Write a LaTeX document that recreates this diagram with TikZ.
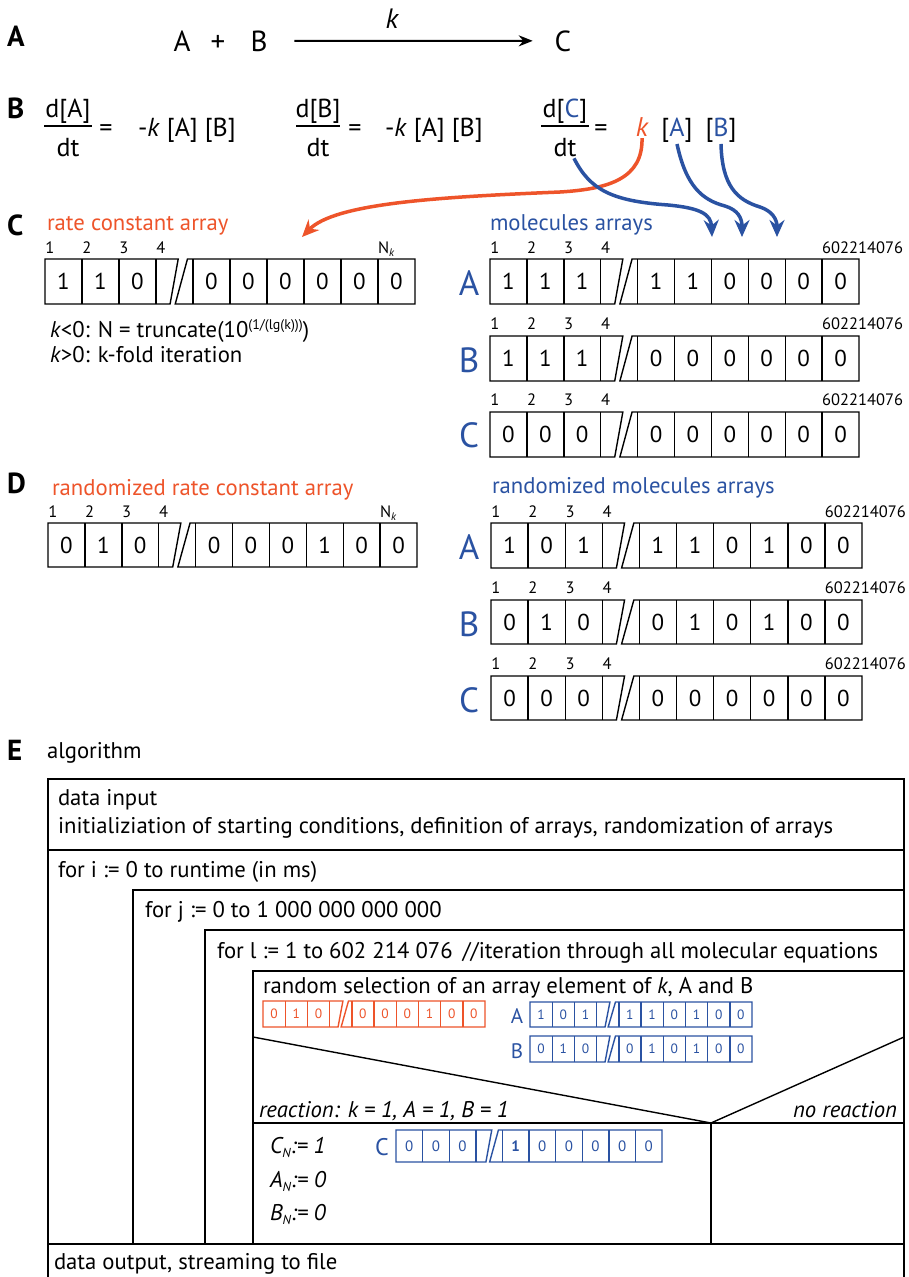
\documentclass[tikz,border=0pt]{standalone}
\usepackage{fontspec}
\setmainfont{PT Sans}
\setsansfont{PT Sans}
\usetikzlibrary{arrows.meta}
\definecolor{myred}{RGB}{238,84,42}
\definecolor{myblue}{RGB}{42,82,162}
\newcommand{\fs}[1]{\fontsize{#1}{#1}\selectfont}
\newcommand{\arr}[8]{%
  \pgfmathsetmacro\aB{#3+#5}%
  \pgfmathsetmacro\aLt{#2+3.6*#4}%
  \pgfmathsetmacro\aLb{#2+3.38*#4}%
  \pgfmathsetmacro\aRt{#2+3.85*#4}%
  \pgfmathsetmacro\aRb{#2+3.52*#4}%
  \pgfmathsetmacro\aR{#2+10*#4}%
  \draw[draw=#6, arrline] (#2,#3) -- (\aLt,#3) -- (\aLb,\aB) -- (#2,\aB) -- cycle;
  \draw[draw=#6, arrline] (\aRt,#3) -- (\aR,#3) -- (\aR,\aB) -- (\aRb,\aB) -- cycle;
  \foreach \c in {1,2,3,4,5,6,7,8,9}{\draw[draw=#6, arrline] ({#2+\c*#4},#3) -- ({#2+\c*#4},\aB);}
  \foreach \d [count=\i] in {#8}{%
    \pgfmathsetmacro\cx{#2+(\i-0.5+(\i>3))*#4}%
    \node[text=#6, font=\fs{#7}] (#1-\i) at (\cx,{#3+0.5*#5}) {\d};}%
}
\newcommand{\idx}[5]{%
  \foreach \n in {1,2,3,4}{\node[idxlbl] (#1-i\n) at ({#2+(\n-1)*#4+0.13*#4},#3) {\n};}
  \node[idxlbl, anchor=base west] (#1-last) at ({#2+9*#4},#3) {#5};
}
\begin{document}
\begin{tikzpicture}[x=1pt,y=-1pt,
  every node/.style={inner sep=0pt, outer sep=0pt},
  lbl/.style={font=\fs{29}\bfseries, anchor=base west},
  txt/.style={font=\fs{22.7}, anchor=base west},
  eq/.style={font=\fs{26}, anchor=base},
  idxlbl/.style={font=\fs{16.5}, anchor=base},
  rowlbl/.style={font=\fs{35}, text=myblue, anchor=base},
  arrline/.style={line width=1.4pt},
  box/.style={line width=1.4pt},
  bigarrow/.style={line width=3.5pt, -{Stealth[length=17pt,width=15pt]}}]
\useasboundingbox (0,0) rectangle (908,1277);
\fill[white] (0,0) rectangle (908,1277);
% ---------------- A
\node[lbl] (labA) at (7,46) {A};
\node[eq, font=\fs{29}] (rA) at (182,51) {A};
\node[eq, font=\fs{29}] (plus) at (218,51) {+};
\node[eq, font=\fs{29}] (rB) at (259,51) {B};
\node[eq, font=\fs{29}] (rC) at (563,51) {C};
\node[eq, font=\fs{28}\itshape] (kk) at (392,28) {k};
\draw[line width=2pt, -{Stealth[length=14pt,width=11pt]}] ([xshift=27pt]rB.east) -- ([xshift=-22pt]rC.west);
% ---------------- B
\node[lbl] (labB) at (7,118) {B};
\node[eq] (n1) at (68,117) {d[A]};
\node[eq] (d1) at (68,156) {dt};
\draw[line width=1.3pt] (44,126) -- (92,126);
\node[eq] (e1) at (106,136) {=};
\node[eq, anchor=base west] (r1) at (138,136) {-\textit{k} [A] [B]};
\node[eq] (n2) at (318,117) {d[B]};
\node[eq] (d2) at (318,156) {dt};
\draw[line width=1.3pt] (296,126) -- (340,126);
\node[eq] (e2) at (355,136) {=};
\node[eq, anchor=base west] (r2) at (385,136) {-\textit{k} [A] [B]};
\node[eq] (n3) at (565,117) {d[{\color{myblue}C}]};
\node[eq] (d3) at (565,156) {dt};
\draw[line width=1.3pt] (541,126) -- (589,126);
\node[eq] (e3) at (601,136) {=};
\node[eq, font=\fs{27}\itshape, text=myred] (kred) at (642,136) {k};
\node[eq] (bA) at (677,136) {[{\color{myblue}A}]};
\node[eq] (bB) at (721,136) {[{\color{myblue}B}]};
% arrows
\draw[bigarrow, myred] ([yshift=-2pt]kred.south) .. controls (643,178) and (610,189) .. (560,192) .. controls (440,197) and (335,203) .. (302,237);
\begin{scope}[bigarrow, myblue, preaction={draw=white, line width=9pt, -}]
\draw ([xshift=9pt,yshift=-2pt]d3.south) .. controls (590,190) and (612,201) .. (668,205) .. controls (700,208) and (711,214) .. (712,237);
\draw ([yshift=-2pt]bA.south) .. controls (686,186) and (702,200) .. (725,206) .. controls (738,210) and (742,218) .. (742,237);
\draw ([yshift=-2pt]bB.south) .. controls (722,186) and (737,200) .. (760,207) .. controls (772,211) and (777,219) .. (777,237);
\end{scope}
% ---------------- C
\node[lbl] (labC) at (7,235) {C};
\node[txt, text=myred] (rca) at (47,230) {rate constant array};
\node[txt, text=myblue] (mca) at (490,230) {molecules arrays};
\idx{kC}{45}{253}{37}{N\raisebox{-3pt}{\fs{11}\itshape k}}
\arr{kC}{45}{259}{37}{45}{black}{23}{1,1,0,0,0,0,0,0,0}
\node[txt] (kl) at (50,337) {\textit{k}<0: N = truncate(10\raisebox{8pt}{\fs{14}(1/(lg(k)))})};
\node[txt] (kg) at (50,362) {\textit{k}>0: k-fold iteration};
\node[rowlbl] (lCA) at (469,295) {A};
\idx{mA}{490}{253}{36.9}{602214076}
\arr{mA}{490}{259}{36.9}{45}{black}{23}{1,1,1,1,1,0,0,0,0}
\node[rowlbl] (lCB) at (469,372) {B};
\idx{mB}{490}{329}{36.9}{602214076}
\arr{mB}{490}{336}{36.9}{45}{black}{23}{1,1,1,0,0,0,0,0,0}
\node[rowlbl] (lCC) at (469,447) {C};
\idx{mC}{490}{405}{36.9}{602214076}
\arr{mC}{490}{412}{36.9}{45}{black}{23}{0,0,0,0,0,0,0,0,0}
% ---------------- D
\node[lbl] (labD) at (7,493) {D};
\node[txt, text=myred] (rrca) at (52,495) {randomized rate constant array};
\node[txt, text=myblue] (rmca) at (492,493) {randomized molecules arrays};
\idx{kD}{48}{517}{36.9}{N\raisebox{-3pt}{\fs{11}\itshape k}}
\arr{kD}{48}{523}{36.9}{44}{black}{23}{0,1,0,0,0,0,1,0,0}
\node[rowlbl] (lDA) at (469,559) {A};
\idx{rA}{491}{517}{37.1}{602214076}
\arr{rA}{491}{523}{37.1}{45}{black}{23}{1,0,1,1,1,0,1,0,0}
\node[rowlbl] (lDB) at (469,636) {B};
\idx{rB}{491}{593}{37.1}{602214076}
\arr{rB}{491}{600}{37.1}{44}{black}{23}{0,1,0,0,1,0,1,0,0}
\node[rowlbl] (lDC) at (469,712) {C};
\idx{rC}{491}{669}{37.1}{602214076}
\arr{rC}{491}{676}{37.1}{44}{black}{23}{0,0,0,0,0,0,0,0,0}
% ---------------- E
\node[lbl] (labE) at (7,760) {E};
\node[txt] (alg) at (47,758) {algorithm};
\draw[box] (48,1277) -- (48,779) -- (904,779) -- (904,1277);
\draw[box] (48,850) -- (904,850);
\draw[box] (133,1244) -- (133,890) -- (904,890);
\draw[box] (205,1244) -- (205,930) -- (904,930);
\draw[box] (253,1244) -- (253,971) -- (904,971);
\draw[box] (253,1037) -- (711,1123) -- (904,1037);
\draw[box] (253,1123) -- (904,1123);
\draw[box] (711,1123) -- (711,1244);
\draw[box] (48,1244) -- (904,1244);
\node[txt] (t1) at (58,805) {data input};
\node[txt] (t2) at (58,833) {initializiation of starting conditions, definition of arrays, randomization of arrays};
\node[txt] (t3) at (58,877) {for i := 0 to runtime (in ms)};
\node[txt] (t4) at (145,917) {for j := 0 to 1 000 000 000 000};
\node[txt] (t5) at (217,958) {for l := 1 to 602 214 076\hspace{10pt}//iteration through all molecular equations};
\node[txt] (t6) at (263,993) {random selection of an array element of \textit{k}, A and B};
\arr{eK}{263}{1001}{22.2}{26}{myred}{13.5}{0,1,0,0,0,0,1,0,0}
\node[font=\fs{21}, text=myblue, anchor=base] (eAl) at (517,1023) {A};
\arr{eA}{530}{1002}{22.2}{25}{myblue}{13.5}{1,0,1,1,1,0,1,0,0}
\node[font=\fs{21}, text=myblue, anchor=base] (eBl) at (517,1058) {B};
\arr{eB}{530}{1036}{22.2}{26}{myblue}{13.5}{0,1,0,0,1,0,1,0,0}
\node[txt, font=\fs{22.7}\itshape] (t7) at (259,1117) {reaction: k = 1, A = 1, B = 1};
\node[txt, font=\fs{22.7}\itshape, anchor=base east] (t8) at (897,1117) {no reaction};
\node[txt, font=\fs{22.7}\itshape] (t9) at (270,1153) {C\raisebox{-4pt}{\fs{13}N}:= 1};
\node[txt, font=\fs{22.7}\itshape] (t10) at (270,1187) {A\raisebox{-4pt}{\fs{13}N}:= 0};
\node[txt, font=\fs{22.7}\itshape] (t11) at (270,1220) {B\raisebox{-4pt}{\fs{13}N}:= 0};
\node[font=\fs{24}, text=myblue, anchor=base] (eCl) at (382,1155) {C};
\arr{eC}{396}{1130}{26.6}{32}{myblue}{15}{0,0,0,\textbf{1},0,0,0,0,0}
\node[txt] (t12) at (54,1269) {data output, streaming to file};
\end{tikzpicture}
\end{document}
